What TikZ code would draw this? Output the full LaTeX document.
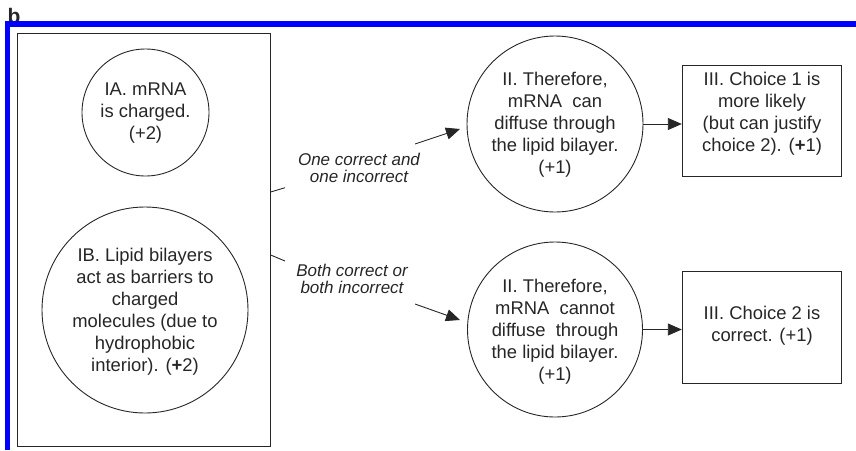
\documentclass[tikz,border=0pt]{standalone}
\usepackage{fontspec}
\setmainfont{Liberation Sans}
\usetikzlibrary{arrows.meta}
\definecolor{ink}{HTML}{262626}
\definecolor{frameblue}{RGB}{0,0,255}
\begin{document}
\begin{tikzpicture}[x=1pt,y=-1pt,
  every node/.style={text=ink},
  line/.style={draw=ink, line width=0.9pt},
  bigbox/.style={line, rectangle, inner sep=0pt},
  ring/.style={line, circle, inner sep=0pt},
  txt/.style={align=center, font=\fontsize{18.4}{22}\selectfont, inner sep=0pt},
  lab/.style={align=center, font=\fontsize{17}{16.5}\selectfont\itshape, inner sep=0pt},
  arr/.style={line, -{Triangle[length=14pt,width=12pt]}},
]
\useasboundingbox (0,0) rectangle (856,450);
\node[font=\fontsize{21}{21}\selectfont\bfseries, anchor=base west, inner sep=0pt] (tag) at (7.5,23) {b};
\draw[frameblue, line width=5.5pt] (7.5,450) -- (7.5,24) -- (856,24);

\node[bigbox, minimum width=253pt, minimum height=413pt] (boxI) at (143.7,239.7) {};
\node[ring, minimum size=127pt] (IA) at (145.5,112.5) {};
\node[txt] (IAt) at (145.5,113) {IA. mRNA\\is charged.\\(+2)};
\node[ring, minimum size=206pt] (IB) at (145,310) {};
\node[txt] (IBt) at (145,312) {IB. Lipid bilayers\\act as barriers to\\charged\\molecules (due to\\hydrophobic\\interior). (\textbf{+}2)};

\node[ring, minimum size=176pt] (IIa) at (555,124) {};
\node[txt] (IIat) at (555,125) {II. Therefore,\\mRNA\ \ can\\diffuse through\\the lipid bilayer.\\(+1)};
\node[ring, minimum size=175pt] (IIb) at (555,329.5) {};
\node[txt] (IIbt) at (555,332) {II. Therefore,\\mRNA\ \ cannot\\diffuse\ \ through\\the lipid bilayer.\\(+1)};

\node[bigbox, minimum width=159.5pt, minimum height=111pt] (IIIa) at (762,120.5) {};
\node[txt] (IIIat) at (762,113.5) {III. Choice 1 is\\more likely\\(but can justify\\choice 2). (\textbf{+}1)};
\node[bigbox, minimum width=159.5pt, minimum height=111.5pt] (IIIb) at (762,327.5) {};
\node[txt] (IIIbt) at (762,326) {III. Choice 2 is\\correct. (+1)};

\node[lab] (Lone) at (359,168) {One correct and\\one incorrect};
\node[lab] (Lboth) at (352,279) {Both correct or\\both incorrect};

\coordinate (a1) at (285,187.7);
\coordinate (a2) at (415,144);
\coordinate (a3) at (460,129);
\coordinate (b1) at (285,261);
\coordinate (b2) at (415,304);
\coordinate (b3) at (460,320);
\draw[line] (boxI.east |- 0,192) -- (a1);
\draw[arr] (a2) -- (a3);
\draw[line] (boxI.east |- 0,255) -- (b1);
\draw[arr] (b2) -- (b3);
\draw[arr] (IIa.east) -- (IIa.east -| IIIa.west);
\draw[arr] (IIb.east) -- (IIb.east -| IIIb.west);
\end{tikzpicture}
\end{document}
